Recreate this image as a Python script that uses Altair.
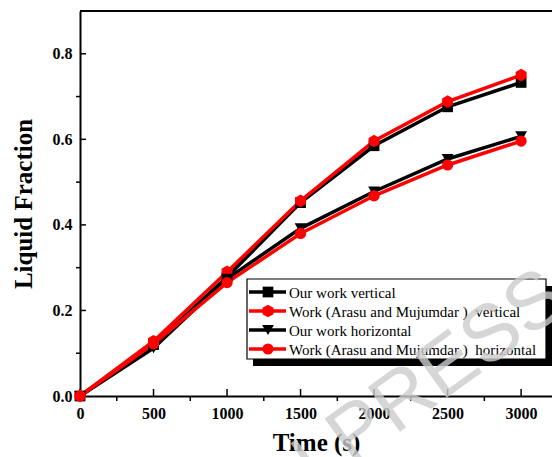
import altair as alt
import pandas as pd

# ---- data ----
time_s = [0, 500, 1000, 1500, 2000, 2500, 3000]
our_vertical = [0.0, 0.120, 0.278, 0.452, 0.585, 0.676, 0.733]
arasu_vertical = [0.0, 0.128, 0.290, 0.456, 0.596, 0.688, 0.750]
our_horizontal = [0.0, 0.112, 0.274, 0.392, 0.478, 0.554, 0.607]
arasu_horizontal = [0.0, 0.122, 0.265, 0.380, 0.468, 0.540, 0.596]

series_labels = [
    "Our work vertical",
    "Work (Arasu and Mujumdar )\u00a0 vertical",
    "Our work horizontal",
    "Work (Arasu and Mujumdar )\u00a0 horizontal",
]
series_values = [our_vertical, arasu_vertical, our_horizontal, arasu_horizontal]
series_colors = ["#000000", "#ff0000", "#000000", "#ff0000"]
HEX = "M0,-1L0.866,-0.5L0.866,0.5L0,1L-0.866,0.5L-0.866,-0.5Z"
series_shapes = ["square", HEX, "triangle-down", "circle"]
series_sizes = [115, 160, 140, 125]

x_major = [0, 500, 1000, 1500, 2000, 2500, 3000]
x_minor = [250, 750, 1250, 1750, 2250, 2750]
y_major = [0.0, 0.2, 0.4, 0.6, 0.8]
y_minor = [0.1, 0.3, 0.5, 0.7]

FONT = "Liberation Serif"
W, H = 472, 385

xs = alt.Scale(domain=[0, 3210], nice=False, zero=False)
ys = alt.Scale(domain=[0, 0.9], nice=False, zero=False)

xaxis = alt.Axis(
    values=x_major, format="d", labelFont=FONT, labelFontSize=16, labelFontWeight="bold",
    labelColor="black", labelPadding=9, labelFlush=False, ticks=False, tickSize=0, grid=False,
    domainColor="black", domainWidth=2, titleFont=FONT, titleFontSize=25,
    titleFontWeight="bold", titleColor="black", titleY=54, titleBaseline="alphabetic",
)
yaxis = alt.Axis(
    values=y_major, format=".1f", labelFont=FONT, labelFontSize=16, labelFontWeight="bold",
    labelColor="black", labelPadding=8, labelFlush=False, ticks=False, tickSize=0, grid=False,
    domainColor="black", domainWidth=2, titleFont=FONT, titleFontSize=25,
    titleFontWeight="bold", titleColor="black", titleX=-57, titleY=H / 2,
    titleAngle=270, titleBaseline="middle", titleAlign="center",
)

X = alt.X("t:Q", scale=xs, axis=xaxis, title="Time (s)")
Y = alt.Y("v:Q", scale=ys, axis=yaxis, title="Liquid Fraction")

layers = []

# tick marks: major inward, minor outward
layers.append(alt.Chart(pd.DataFrame({"v": y_major})).mark_rule(color="black", strokeWidth=1.5)
              .encode(y=Y, x=alt.value(0), x2=alt.value(6)))
layers.append(alt.Chart(pd.DataFrame({"v": y_minor})).mark_rule(color="black", strokeWidth=1.5)
              .encode(y=Y, x=alt.value(-4), x2=alt.value(0)))
layers.append(alt.Chart(pd.DataFrame({"t": x_major})).mark_rule(color="black", strokeWidth=1.5)
              .encode(x=X, y=alt.value(H), y2=alt.value(H - 7)))
layers.append(alt.Chart(pd.DataFrame({"t": x_minor})).mark_rule(color="black", strokeWidth=1.5)
              .encode(x=X, y=alt.value(H), y2=alt.value(H + 5)))
# top frame line
layers.append(alt.Chart(pd.DataFrame({"a": [0]})).mark_rule(color="black", strokeWidth=2)
              .encode(x=alt.value(0), x2=alt.value(W), y=alt.value(0)))

# series lines then points
for vals, col in zip(series_values, series_colors):
    df = pd.DataFrame({"t": time_s, "v": vals})
    layers.append(alt.Chart(df).mark_line(color=col, strokeWidth=3.5).encode(x=X, y=Y))
for vals, col, shp, sz in zip(series_values, series_colors, series_shapes, series_sizes):
    df = pd.DataFrame({"t": time_s, "v": vals})
    layers.append(alt.Chart(df).mark_point(shape=shp, filled=True, color=col, size=sz, opacity=1)
                  .encode(x=X, y=Y))

# manual legend (box with shadow)
one = pd.DataFrame({"a": [0]})
LX0, LX1, LY0, LY1 = 167, 466, 268, 348
layers.append(alt.Chart(one).mark_rect(color="black")
              .encode(x=alt.value(LX0 + 6), x2=alt.value(LX1 + 6), y=alt.value(LY0 + 7), y2=alt.value(LY1 + 7)))
layers.append(alt.Chart(one).mark_rect(fill="white", stroke="black", strokeWidth=1.2)
              .encode(x=alt.value(LX0), x2=alt.value(LX1), y=alt.value(LY0), y2=alt.value(LY1)))
row_y = [281, 300, 319, 338]
for i, (lab, col, shp, sz) in enumerate(zip(series_labels, series_colors, series_shapes, series_sizes)):
    yy = row_y[i]
    layers.append(alt.Chart(one).mark_rule(color=col, strokeWidth=3.5)
                  .encode(x=alt.value(169), x2=alt.value(206), y=alt.value(yy)))
    layers.append(alt.Chart(one).mark_point(shape=shp, filled=True, color=col, size=sz, opacity=1)
                  .encode(x=alt.value(188), y=alt.value(yy)))
    layers.append(alt.Chart(one).mark_text(text=lab, font=FONT, fontSize=15, color="black",
                                           align="left", baseline="middle")
                  .encode(x=alt.value(209), y=alt.value(yy + 1)))

# watermark
layers.append(alt.Chart(one).mark_text(text="IN PRESS", font="Liberation Sans", fontSize=80,
                                       color="#cccccc", opacity=0.8, angle=324,
                                       align="left", baseline="alphabetic")
              .encode(x=alt.value(189), y=alt.value(516)))

chart = alt.layer(*layers).properties(
    width=W, height=H,
    autosize=alt.AutoSizeParams(type="none"),
    padding={"left": 80, "top": 11, "right": 0, "bottom": 61},
    background="white",
).configure_view(stroke=None)

chart.save("out.html", embed_options={"renderer": "svg", "actions": False})
